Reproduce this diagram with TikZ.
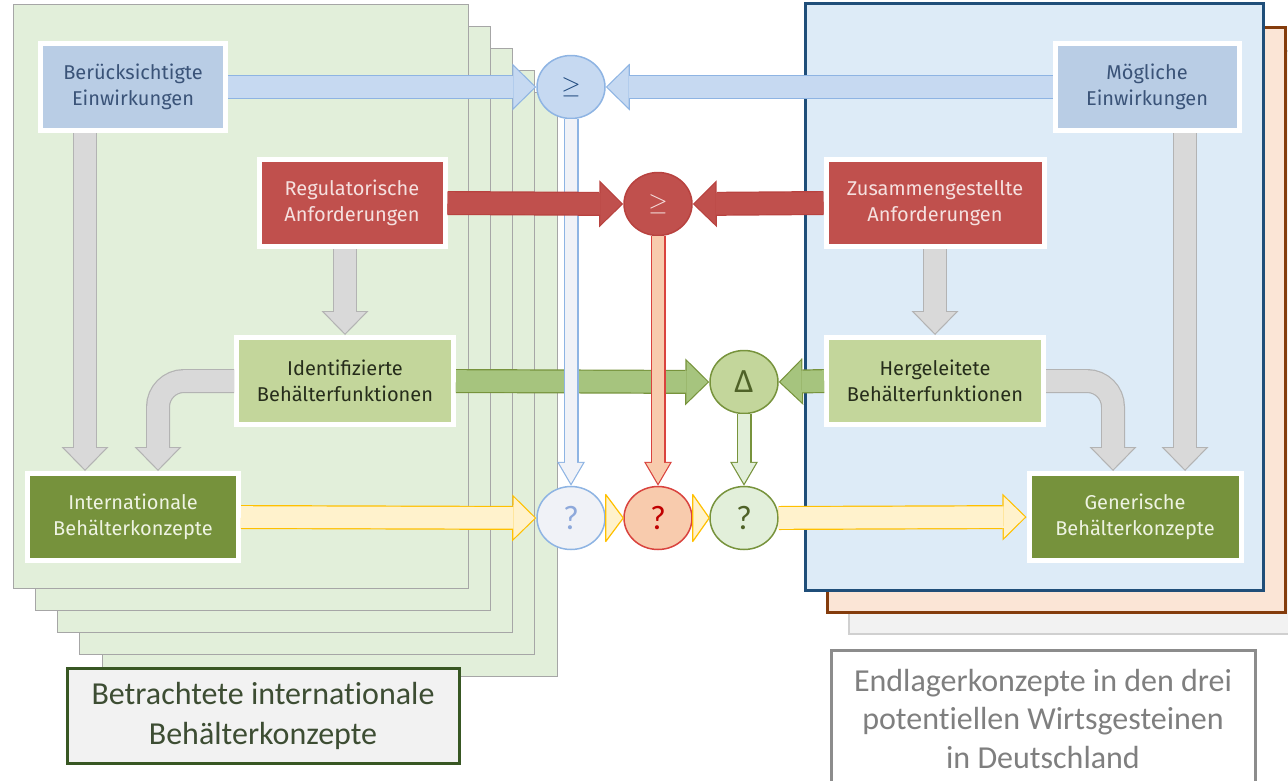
\documentclass[tikz,border=0pt]{standalone}
\usepackage{fontspec}
\setmainfont{Carlito}[Ligatures=NoCommon]
\newfontfamily\boxfont{Fira Sans}
\usetikzlibrary{shapes,arrows.meta,shadows}
\definecolor{sheet green}{HTML}{E2EFDA}
\definecolor{sheet edge}{HTML}{A6A6A6}
\definecolor{sheet blue}{HTML}{DDEBF7}
\definecolor{deep blue}{HTML}{1F4E79}
\definecolor{sheet orange}{HTML}{FBE5D6}
\definecolor{deep brown}{HTML}{843C0C}
\definecolor{sheet gray}{HTML}{F2F2F2}
\definecolor{sheet gray edge}{HTML}{D0D0D0}
\definecolor{box blue}{HTML}{B9CDE5}
\definecolor{text blue}{HTML}{3A5378}
\definecolor{box red}{HTML}{C0504D}
\definecolor{text red}{HTML}{F5E0DF}
\definecolor{box lime}{HTML}{C3D69B}
\definecolor{text lime}{HTML}{262D1B}
\definecolor{box olive}{HTML}{76923C}
\definecolor{text olive}{HTML}{EEF3E2}
\definecolor{arrow blue}{HTML}{C6D9F1}
\definecolor{edge blue}{HTML}{8EB4E3}
\definecolor{edge red}{HTML}{B8423F}
\definecolor{arrow green}{HTML}{A6C47E}
\definecolor{edge green}{HTML}{77933C}
\definecolor{arrow yellow}{HTML}{FFF2CC}
\definecolor{edge yellow}{HTML}{FFC000}
\definecolor{arrow gray}{HTML}{D9D9D9}
\definecolor{edge gray}{HTML}{B3B3B3}
\definecolor{pale salmon}{HTML}{F8CBAD}
\definecolor{edge salmon}{HTML}{D9433E}
\definecolor{pale blue}{HTML}{F0F2F7}
\definecolor{pale green}{HTML}{E2EFDA}
\definecolor{dark olive}{HTML}{4F6228}
\definecolor{dark red}{HTML}{C00000}
\definecolor{mid blue}{HTML}{8EA9DB}
\definecolor{navy}{HTML}{1F497D}
\definecolor{label green}{HTML}{385723}
\definecolor{label text}{HTML}{3D4D33}
\definecolor{label gray}{HTML}{8C8C8C}
\definecolor{gray text}{HTML}{7F7F7F}
\tikzset{box/.style={rectangle, draw=white, line width=5, minimum height=87, align=center,
        font=\boxfont\fontsize{20}{26}\selectfont,
        drop shadow={opacity=0.25, shadow xshift=1pt, shadow yshift=-1.5pt}},
    knot/.style 2 args={ellipse, minimum width=68, minimum height=63, inner sep=0pt,
        fill=#1, draw=#2, line width=1.5, font=\fontsize{34}{34}\selectfont},
    fat/.style 2 args={draw=#2, line width=24, -{Triangle[length=24pt,width=47pt,line width=0pt]},
        postaction={draw=#1, line width=21.6, shorten >=1.7pt,
            -{Triangle[length=21.1pt,width=41.3pt,line width=0pt]}}},
    slim/.style 2 args={draw=#2, line width=15, -{Triangle[length=24pt,width=28pt,line width=0pt]},
        postaction={draw=#1, line width=12.6, shorten >=2.4pt,
            -{Triangle[length=20.4pt,width=23.8pt,line width=0pt]}}},
    wedge/.style={fill=arrow yellow, draw=edge yellow, line width=1.2, line join=round},
    sheet/.style 2 args={fill=#1, draw=#2}}

\begin{document}
\begin{tikzpicture}[x=1pt, y=-1pt]
    \useasboundingbox (0,0) rectangle (1288,780);
    % stacked sheets
    \foreach \i in {4,3,2,1,0}
        \draw[sheet={sheet green}{sheet edge}, line width=1] ({13+22.25*\i},{4+22*\i}) rectangle ++(455,584);
    \draw[sheet={sheet gray}{sheet gray edge}, line width=2] (849,51) rectangle (1300,634);
    \draw[sheet={sheet orange}{deep brown}, line width=3] (827,27) rectangle (1285,612);
    \draw[sheet={sheet blue}{deep blue}, line width=3] (805,3) rectangle (1263,590);

    \node[box, minimum width=185, fill=box blue, text=text blue] (berueck) at (133,87) {Berücksichtigte\\Einwirkungen};
    \node[box, minimum width=186, fill=box red, text=text red] (regul) at (352,203) {Regulatorische\\Anforderungen};
    \node[box, minimum width=217, fill=box lime, text=text lime] (ident) at (345,381) {Identifizierte\\Behälterfunktionen};
    \node[box, minimum width=211, fill=box olive, text=text olive] (internat) at (133,517) {Internationale\\Behälterkonzepte};
    \node[box, minimum width=184, fill=box blue, text=text blue] (moeglich) at (1147,87) {Mögliche\\Einwirkungen};
    \node[box, minimum width=218, fill=box red, text=text red] (zusamm) at (935,203) {Zusammengestellte\\Anforderungen};
    \node[box, minimum width=217, fill=box lime, text=text lime] (hergel) at (935,381) {Hergeleitete\\Behälterfunktionen};
    \node[box, minimum width=212, fill=box olive, text=text olive] (generisch) at (1135,517) {Generische\\Behälterkonzepte};

    \node[knot={arrow blue}{edge blue}, text=navy, font=\fontsize{28}{28}\selectfont] (cmpA) at (571,87) {$\geq$};
    \node[knot={box red}{edge red}, text=text red, font=\fontsize{28}{28}\selectfont] (cmpB) at (658,204) {$\geq$};
    \node[knot={box lime}{edge green}, text=dark olive] (delta) at (744,382) {Δ};
    \node[knot={pale blue}{edge blue}, text=mid blue] (qA) at (571,518) {?};
    \node[knot={pale salmon}{edge salmon}, text=dark red] (qB) at (658,518) {?};
    \node[knot={pale green}{edge green}, text=dark olive] (qC) at (744,518) {?};

    \node[draw=label green, line width=3, fill=sheet gray, minimum width=392, minimum height=95, align=center,
        text=label text, font=\fontsize{32}{40}\selectfont] (intlabel) at (263,715.5) {Betrachtete internationale\\Behälterkonzepte};
    \node[draw=label gray, line width=3, fill=white, minimum width=424, minimum height=136, anchor=north, align=center,
        text=gray text, font=\fontsize{32}{38.5}\selectfont] (delabel) at (1043,649) {Endlagerkonzepte in den drei\\potentiellen Wirtsgesteinen\\in Deutschland};

    % grey flows inside the sheets
    \draw[fat={arrow gray}{edge gray}] ([xshift=-48]berueck.south) -- ([xshift=-48]internat.north);
    \draw[fat={arrow gray}{edge gray}] (regul.south -| ident.north) -- (ident.north);
    \draw[fat={arrow gray}{edge gray}, rounded corners=26] (ident.west) -| ([xshift=25]internat.north);
    \draw[fat={arrow gray}{edge gray}] (zusamm.south) -- (hergel.north);
    \draw[fat={arrow gray}{edge gray}] ([xshift=38]moeglich.south) -- ([xshift=38]moeglich.south |- generisch.north);
    \draw[fat={arrow gray}{edge gray}, rounded corners=26] (hergel.east) -| ([xshift=-22]generisch.north);

    \draw[fat={arrow green}{edge green}] (ident.east) -- (delta.west);
    \draw[fat={arrow green}{edge green}] (hergel.west) -- (delta.east);
    \draw[slim={pale blue}{edge blue}] (cmpA.south) -- (qA.north);
    \draw[fat={arrow blue}{edge blue}] (berueck.east) -- (cmpA.west);
    \draw[fat={arrow blue}{edge blue}] (moeglich.west) -- (cmpA.east);
    \draw[fat={box red}{edge red}] (regul.east) -- (cmpB.west);
    \draw[fat={box red}{edge red}] (zusamm.west) -- (cmpB.east);
    \draw[slim={pale salmon}{edge salmon}] (cmpB.south) -- (qB.north);
    \draw[slim={pale green}{edge green}] (delta.south) -- (qC.north);

    % yellow chain
    \draw[fat={arrow yellow}{edge yellow}] (internat.east) -- (qA.west);
    \filldraw[wedge] ([yshift=23.5]qA.east) -- ([yshift=-23.5]qA.east) -- (qB.west) -- cycle;
    \filldraw[wedge] ([yshift=23.5]qB.east) -- ([yshift=-23.5]qB.east) -- (qC.west) -- cycle;
    \draw[fat={arrow yellow}{edge yellow}] (qC.east) -- (generisch.west);
\end{tikzpicture}
\end{document}
